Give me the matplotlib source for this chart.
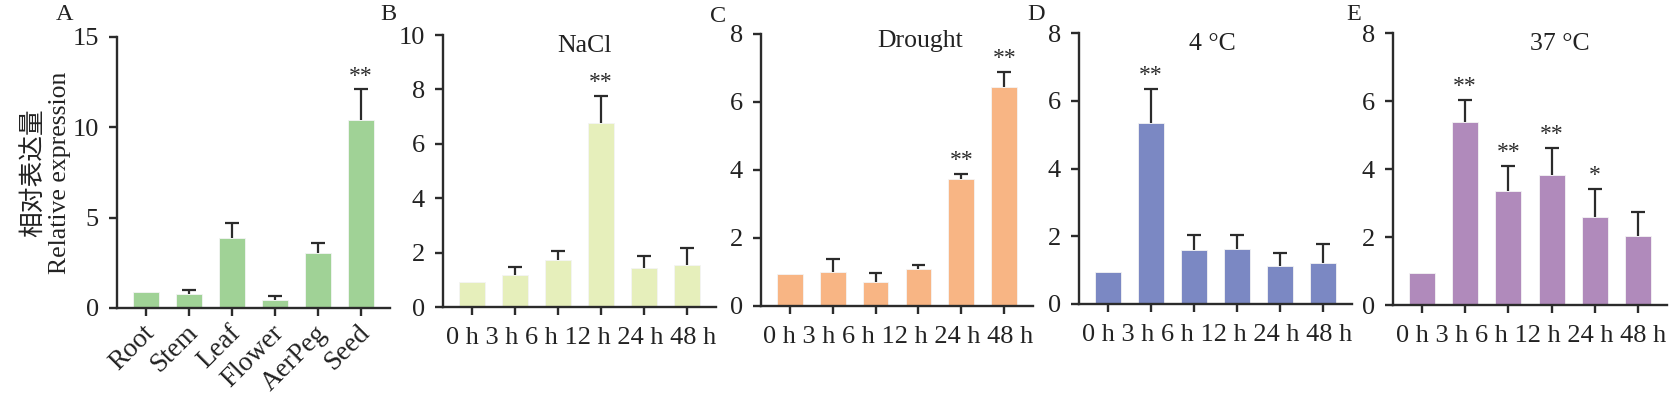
import numpy as np
import matplotlib
matplotlib.use("Agg")
import matplotlib.pyplot as plt
import matplotlib.transforms as mtransforms

plt.rcParams['font.family'] = ['Liberation Serif', 'Noto Sans CJK SC']
plt.rcParams['font.size'] = 19

# panel A: tissues
tissues = ["Root", "Stem", "Leaf", "Flower", "AerPeg", "Seed"]
tissue_expr = [0.88, 0.75, 3.88, 0.46, 3.03, 10.39]
tissue_err = [0, 0.22, 0.84, 0.18, 0.59, 1.71]
tissue_stars = ["", "", "", "", "", "**"]

# panels B-E: time course under stress
hours = ["0 h", "3 h", "6 h", "12 h", "24 h", "48 h"]
nacl_expr = [0.92, 1.17, 1.74, 6.77, 1.44, 1.53]
nacl_err = [0, 0.30, 0.32, 0.98, 0.43, 0.63]
nacl_stars = ["", "", "", "**", "", ""]
drought_expr = [0.94, 1.00, 0.71, 1.09, 3.73, 6.43]
drought_err = [0, 0.39, 0.27, 0.11, 0.15, 0.46]
drought_stars = ["", "", "", "", "**", "**"]
cold_expr = [0.94, 5.33, 1.60, 1.61, 1.12, 1.21]
cold_err = [0, 1.02, 0.45, 0.44, 0.39, 0.56]
cold_stars = ["", "**", "", "", "", ""]
heat_expr = [0.93, 5.39, 3.34, 3.83, 2.58, 2.03]
heat_err = [0, 0.65, 0.75, 0.80, 0.84, 0.72]
heat_stars = ["", "**", "**", "**", "*", ""]

W, H = 1681, 397
INK = "#2b2b2b"


def bar_panel(fig, left, right, top, bottom, labels, vals, errs, stars, color, ymax, ystep):
    ax = fig.add_axes([left / W, 1 - bottom / H, (right - left) / W, (bottom - top) / H])
    x = np.arange(len(labels))
    ax.bar(x, vals, width=0.6, color=color, edgecolor="#f4f4f4", linewidth=0.6, zorder=2)
    # only the upper half of the error bar, like the original
    for xi, v, e in zip(x, vals, errs):
        if e > 0:
            ax.vlines(xi, v, v + e, color=INK, linewidth=1.6, zorder=3)
            ax.hlines(v + e, xi - 0.16, xi + 0.16, color=INK, linewidth=1.6, zorder=3)
    for xi, v, e, s in zip(x, vals, errs, stars):
        if s:
            ax.annotate(s, (xi, v + e), xytext=(0, 2), textcoords="offset points",
                        ha="center", va="bottom", fontsize=17, color=INK)
    ax.set_xlim(-0.67, len(labels) - 0.33)
    ax.set_ylim(0, ymax)
    ax.set_yticks(np.arange(0, ymax + 0.01, ystep))
    ax.set_xticks(x)
    for side in ["top", "right"]:
        ax.spines[side].set_visible(False)
    for side in ["left", "bottom"]:
        ax.spines[side].set_linewidth(1.7)
        ax.spines[side].set_color(INK)
    ax.tick_params(axis="both", width=1.7, length=6, color=INK, labelsize=19,
                   labelcolor="#222222")
    ax.tick_params(axis="y", pad=7)
    return ax


def main() -> None:
    fig = plt.figure(figsize=(W / 100, H / 100), dpi=100)

    ax = bar_panel(fig, 117, 390, 37, 308, tissues, tissue_expr, tissue_err, tissue_stars,
                   "#a0d296", 15, 5)
    ax.set_xticklabels(tissues, fontsize=19.5)
    ax.tick_params(axis="x", pad=3)
    shift = mtransforms.ScaledTranslation(10 / 72, 0, fig.dpi_scale_trans)
    for lab in ax.get_xticklabels():
        lab.set_rotation(45)
        lab.set_ha("right")
        lab.set_va("top")
        lab.set_transform(lab.get_transform() + shift)
    ax.set_ylabel("相对表达量\nRelative expression", fontsize=18.5, linespacing=1.15,
                  color="#222222")
    ax.yaxis.set_label_coords(-0.17, 0.5)

    panels = [
        (443, 716, 35, 307, nacl_expr, nacl_err, nacl_stars, "#e6efbb", 10, 2, "NaCl", 0.52, 0.96),
        (761, 1033, 34, 306, drought_expr, drought_err, drought_stars, "#f8b584", 8, 2, "Drought", 0.585, 0.975),
        (1079, 1352, 33, 304, cold_expr, cold_err, cold_stars, "#7b88c3", 8, 2, "4 °C", 0.49, 0.96),
        (1393, 1667, 33, 305, heat_expr, heat_err, heat_stars, "#b08abb", 8, 2, "37 °C", 0.61, 0.96),
    ]
    for left, right, top, bottom, vals, errs, stars, color, ymax, ystep, title, tx, ty in panels:
        ax = bar_panel(fig, left, right, top, bottom, hours, vals, errs, stars, color, ymax, ystep)
        ax.set_xticklabels([])
        # the time labels sit as one run of text under the axis
        ax.text(0.505, -0.114, " ".join(hours), transform=ax.transAxes, ha="center",
                va="center", fontsize=19, color="#222222")
        ax.text(tx, ty, title, transform=ax.transAxes, ha="center", va="center",
                fontsize=18.5, color="#222222")

    for letter, lx, ly in [("A", 65, 15), ("B", 388, 15), ("C", 718, 16), ("D", 1036, 15), ("E", 1354, 15)]:
        fig.text(lx / W, 1 - ly / H, letter, ha="center", va="center", fontsize=17.5, color="#222222")

    fig.savefig("out.png", dpi=100)


if __name__ == "__main__":
    main()
